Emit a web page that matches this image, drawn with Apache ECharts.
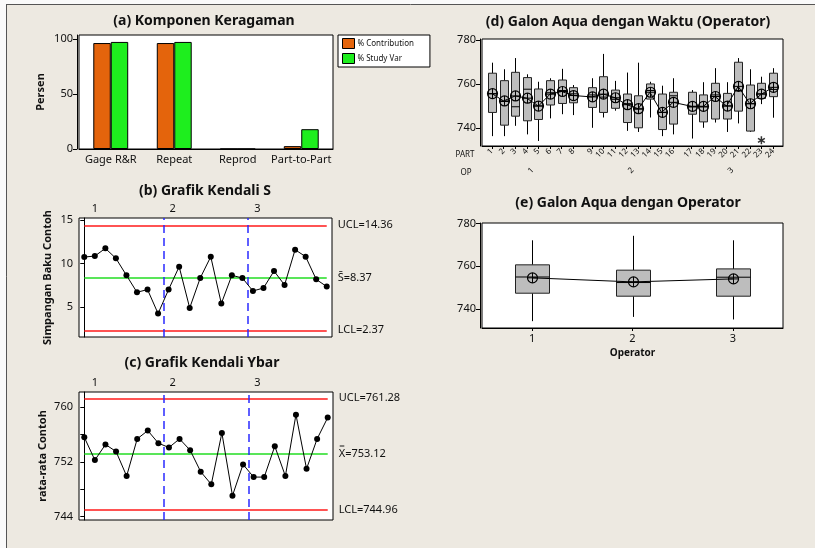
<!DOCTYPE html>
<html><head><meta charset="utf-8">
<script src="https://cdn.jsdelivr.net/npm/echarts@6/dist/echarts.min.js"></script>
<style>html,body{margin:0;padding:0;background:#fff;}#c{width:815px;height:548px;}</style>
</head><body><div id="c"></div>
<script>
// ---------- data ----------
// (a) Komponen Keragaman
const compCategories = ['Gage R&R', 'Repeat', 'Reprod', 'Part-to-Part'];
const pctContribution = [96.3, 96.3, 0, 2.6];
const pctStudyVar = [97.3, 97.3, 0, 18.0];

// (b) S chart and (c) Ybar chart, 24 subgroups, 3 operators
const subgroupIdx = [1,2,3,4,5,6,7,8,9,10,11,12,13,14,15,16,17,18,19,20,21,22,23,24];
const opGroupLabels = ['1', '2', '3'];
const sValues = [10.74,10.85,11.73,10.59,8.65,6.71,7.02,4.28,7.02,9.64,4.92,8.34,10.78,5.42,8.65,8.34,6.86,7.20,9.14,7.54,11.58,10.78,8.19,7.36];
const sUCL = 14.36, sCL = 8.37, sLCL = 2.37;
const ybarValues = [755.59,752.25,754.53,753.51,749.92,755.35,756.56,754.72,754.09,755.35,753.70,750.55,748.71,756.22,747.05,751.62,749.77,749.77,754.28,749.92,758.89,750.98,755.35,758.46];
const xUCL = 761.28, xCL = 753.12, xLCL = 744.96;

// tick values
const sTicks = [5, 10, 15];
const ybarTicks = [744, 748, 752, 756, 760];
const ybarTickLabels = [744, 752, 760];
const pctTicks = [0, 50, 100];
const measTicks = [740, 760, 780];

// (d) per part boxplots
const partLabels = ['1','2','3','4','5','6','7','8','9','10','11','12','13','14','15','16','17','18','19','20','21','22','23','24'];
const partOperator = [0,0,0,0,0,0,0,0,1,1,1,1,1,1,1,1,2,2,2,2,2,2,2,2];
const partMin    = [736.2,736.2,740.9,737.0,734.0,744.3,746.2,745.8,740.0,744.7,747.8,738.6,738.1,744.7,736.2,737.0,735.1,740.0,742.4,738.1,742.0,738.1,750.8,744.6];
const partQ1     = [747.0,741.2,745.3,743.2,743.8,750.4,751.1,751.4,749.3,747.0,748.9,742.4,740.0,753.1,739.2,741.7,746.2,742.7,744.0,744.0,747.6,738.5,753.4,754.2];
const partMedian = [755.5,752.0,749.6,757.6,750.0,756.0,757.0,755.5,755.0,754.0,753.0,751.0,748.5,757.0,747.0,754.6,749.5,749.5,755.0,750.0,757.0,751.0,755.5,757.5];
const partQ3     = [764.9,761.5,765.3,762.9,757.7,761.5,761.8,758.3,758.3,763.3,757.2,755.4,754.6,760.0,755.4,756.2,756.2,755.0,760.3,755.7,769.9,759.5,760.3,764.9];
const partMax    = [769.7,766.7,771.8,764.4,761.0,762.6,766.9,759.5,762.6,773.7,761.4,765.2,769.7,761.0,759.2,762.6,757.2,760.8,767.2,760.8,771.8,766.7,763.3,767.2];
const partMean   = ybarValues;
const outlierPart = [23];
const outlierValue = [734.3];

// (e) per operator boxplots
const operators = ['1', '2', '3'];
const opMin    = [734.2, 736.2, 735.0];
const opQ1     = [747.3, 745.9, 745.9];
const opMedian = [754.9, 752.3, 754.8];
const opQ3     = [760.6, 758.1, 758.7];
const opMax    = [772.1, 774.2, 772.1];
const opMean   = [754.5, 752.6, 754.0];

// ---------- style ----------
const FONT = "'Noto Sans', 'DejaVu Sans', sans-serif";
const BG = '#EDE9E1';
const TXT = '#111';
const GROUP_GAP = 0.6; // extra spacing between operator groups in (d)
const partPos = subgroupIdx.map((p, i) => p + partOperator[i] * GROUP_GAP);
const groupCenters = opGroupLabels.map((_, g) => {
  const ps = partPos.filter((_, i) => partOperator[i] === g);
  return (ps[0] + ps[ps.length - 1]) / 2;
});

const gridStyle = {show: true, backgroundColor: '#fff', borderColor: '#000', borderWidth: 1};
const axisLineBlack = {show: true, lineStyle: {color: '#000', width: 1}};
const tickOut = {show: true, length: 4, lineStyle: {color: '#000'}};
const lblStyle = {color: TXT, fontSize: 11, fontFamily: FONT};

function yAx(grid, min, max, ticks, labels, name, nameGap) {
  return {
    type: 'value', gridIndex: grid, min: min, max: max, offset: 2,
    axisLine: axisLineBlack,
    axisTick: Object.assign({}, tickOut, {customValues: ticks}),
    axisLabel: Object.assign({}, lblStyle, {customValues: labels, margin: 4}),
    splitLine: {show: false},
    name: name || '', nameLocation: 'middle', nameRotate: 90, nameGap: nameGap || 0,
    nameTextStyle: {fontWeight: 'bold', fontSize: 11, fontFamily: FONT, color: TXT}
  };
}

function limitLine(x0, x1, y, color, text) {
  return [
    {coord: [x0, y], lineStyle: {color: color, width: 1.5, type: 'solid'},
     label: {show: true, position: 'end', distance: 11, formatter: text, color: TXT, fontSize: 11, fontFamily: FONT}},
    {coord: [x1, y]}
  ];
}
function groupDivider(x) {
  return {xAxis: x, lineStyle: {color: '#2a2aff', width: 1.5, type: [8, 5]}, label: {show: false}};
}
const n = subgroupIdx.length;
function controlMarks(ucl, cl, lcl, clText) {
  return {
    symbol: 'none', silent: true, animation: false,
    data: [
      limitLine(0, n - 1, ucl, '#ff1a1a', 'UCL=' + ucl.toFixed(2)),
      limitLine(0, n - 1, cl, '#22dd22', clText),
      limitLine(0, n - 1, lcl, '#ff1a1a', 'LCL=' + lcl.toFixed(2)),
      groupDivider(7.5),
      groupDivider(15.5)
    ]
  };
}

function boxRenderer(halfW) {
  return function (params, api) {
    const x = api.value(0);
    const pMin = api.coord([x, api.value(1)]);
    const pQ1 = api.coord([x, api.value(2)]);
    const pMed = api.coord([x, api.value(3)]);
    const pQ3 = api.coord([x, api.value(4)]);
    const pMax = api.coord([x, api.value(5)]);
    const pMean = api.coord([x, api.value(6)]);
    const cx = Math.round(pMin[0]) + 0.5;
    const r = 5;
    const ln = {stroke: '#000', lineWidth: 1};
    return {
      type: 'group',
      children: [
        {type: 'line', shape: {x1: cx, y1: pMax[1], x2: cx, y2: pQ3[1]}, style: ln},
        {type: 'line', shape: {x1: cx, y1: pQ1[1], x2: cx, y2: pMin[1]}, style: ln},
        {type: 'rect', shape: {x: cx - halfW, y: pQ3[1], width: 2 * halfW, height: pQ1[1] - pQ3[1]},
         style: {fill: '#BDBDBD', stroke: '#222', lineWidth: 1}},
        {type: 'line', shape: {x1: cx - halfW, y1: pMed[1], x2: cx + halfW, y2: pMed[1]}, style: ln},
        {type: 'circle', shape: {cx: cx, cy: pMean[1], r: r}, style: {fill: 'none', stroke: '#000', lineWidth: 1.2}},
        {type: 'line', shape: {x1: cx - r, y1: pMean[1], x2: cx + r, y2: pMean[1]}, style: ln},
        {type: 'line', shape: {x1: cx, y1: pMean[1] - r, x2: cx, y2: pMean[1] + r}, style: ln}
      ]
    };
  };
}

function txt(x, y, text, size, bold) {
  return {
    type: 'text', x: x, y: y, silent: true,
    style: {text: text, fontSize: size, fontWeight: bold ? 'bold' : 'normal', fontFamily: FONT, fill: TXT,
            align: 'center', verticalAlign: 'middle', textAlign: 'center', textVerticalAlign: 'middle'}
  };
}

const graphics = [
  {type: 'rect', shape: {x: 0, y: 0, width: 815, height: 4.5}, style: {fill: '#fafafa'}, silent: true},
  {type: 'rect', shape: {x: 0, y: 0, width: 6, height: 548}, style: {fill: '#fafafa'}, silent: true},
  {type: 'line', shape: {x1: 6, y1: 4.5, x2: 815, y2: 4.5}, style: {stroke: '#555', lineWidth: 1}, silent: true},
  {type: 'line', shape: {x1: 6.5, y1: 4.5, x2: 6.5, y2: 548}, style: {stroke: '#555', lineWidth: 1}, silent: true},
  txt(204, 21, '(a) Komponen Keragaman', 14, true),
  txt(205, 191, '(b) Grafik Kendali S', 14, true),
  txt(202, 363, '(c) Grafik Kendali Ybar', 14, true),
  txt(628, 22, '(d) Galon Aqua dengan Waktu (Operator)', 14, true),
  txt(628, 203, '(e) Galon Aqua dengan Operator', 14, true),
  txt(95, 209, opGroupLabels[0], 11, false),
  txt(172.7, 209, opGroupLabels[1], 11, false),
  txt(257.3, 209, opGroupLabels[2], 11, false),
  txt(95, 382.5, opGroupLabels[0], 11, false),
  txt(172.7, 382.5, opGroupLabels[1], 11, false),
  txt(257.3, 382.5, opGroupLabels[2], 11, false),
  txt(465, 155, 'PART', 8, false),
  txt(466, 173, 'OP', 8, false)
];

function nearestIndex(arr, v) {
  let best = 0;
  for (let i = 1; i < arr.length; i++) if (Math.abs(arr[i] - v) < Math.abs(arr[best] - v)) best = i;
  return best;
}

const option = {
  animation: false,
  backgroundColor: BG,
  textStyle: {fontFamily: FONT},
  graphic: graphics,
  legend: {
    left: 338, top: 35, orient: 'vertical',
    data: ['% Contribution', '% Study Var'],
    backgroundColor: '#fff', borderColor: '#000', borderWidth: 1,
    padding: [3, 16, 3, 4], itemGap: 4, itemWidth: 12, itemHeight: 10,
    icon: 'rect',
    itemStyle: {borderColor: '#000', borderWidth: 1},
    textStyle: {fontSize: 8, fontFamily: FONT, color: TXT, padding: [0, 0, 0, -2]}
  },
  grid: [
    Object.assign({left: 79, top: 35, width: 254, height: 114}, gridStyle),
    Object.assign({left: 79, top: 218, width: 253, height: 119}, gridStyle),
    Object.assign({left: 79, top: 392, width: 254, height: 128}, gridStyle),
    Object.assign({left: 482, top: 39, width: 301, height: 107}, gridStyle),
    Object.assign({left: 482, top: 223, width: 301, height: 105}, gridStyle)
  ],
  xAxis: [
    {type: 'category', gridIndex: 0, data: compCategories, axisLine: axisLineBlack, axisTick: {show: false},
     axisLabel: Object.assign({}, lblStyle, {margin: 5, interval: 0})},
    {type: 'value', gridIndex: 1, min: -0.5, max: n - 0.5, show: false},
    {type: 'value', gridIndex: 2, min: -0.5, max: n - 0.5, show: false},
    {type: 'value', gridIndex: 3, min: 0.14, max: 26.06, axisLine: axisLineBlack,
     axisTick: {show: true, length: 3, customValues: partPos, lineStyle: {color: '#000'}},
     splitLine: {show: false},
     axisLabel: {customValues: partPos, rotate: 45, fontSize: 8, fontFamily: FONT, color: TXT, margin: 4,
                 formatter: v => partLabels[nearestIndex(partPos, v)]}},
    {type: 'value', gridIndex: 3, min: 0.14, max: 26.06, position: 'bottom', offset: 19,
     axisLine: {show: false}, axisTick: {show: false}, splitLine: {show: false},
     axisLabel: {customValues: groupCenters, rotate: 45, fontSize: 8, fontFamily: FONT, color: TXT, margin: 4,
                 formatter: v => opGroupLabels[nearestIndex(groupCenters, v)]}},
    {type: 'category', gridIndex: 4, data: operators, axisLine: axisLineBlack,
     axisTick: {show: true, length: 3, alignWithLabel: true, lineStyle: {color: '#000'}},
     axisLabel: Object.assign({}, lblStyle, {margin: 5}),
     name: 'Operator', nameLocation: 'middle', nameGap: 20,
     nameTextStyle: {fontWeight: 'bold', fontSize: 10, fontFamily: FONT, color: TXT}}
  ],
  yAxis: [
    yAx(0, 0, 103.6, pctTicks, pctTicks, 'Persen', 31),
    yAx(1, 1.6, 15.2, sTicks, sTicks, 'Simpangan Baku Contoh', 24),
    yAx(2, 743.5, 762.2, ybarTicks, ybarTickLabels, 'rata-rata Contoh', 29),
    yAx(3, 731.7, 780.5, measTicks, measTicks),
    yAx(4, 731.0, 780.2, measTicks, measTicks)
  ],
  series: [
    {type: 'bar', name: '% Contribution', xAxisIndex: 0, yAxisIndex: 0, data: pctContribution,
     barGap: '0%', barCategoryGap: '45%', itemStyle: {color: '#E4640C', borderColor: '#000', borderWidth: 1}},
    {type: 'bar', name: '% Study Var', xAxisIndex: 0, yAxisIndex: 0, data: pctStudyVar,
     barGap: '0%', barCategoryGap: '45%', itemStyle: {color: '#1EEE1E', borderColor: '#000', borderWidth: 1}},
    {type: 'line', xAxisIndex: 1, yAxisIndex: 1, data: sValues.map((v, i) => [i, v]),
     symbol: 'circle', symbolSize: 6, itemStyle: {color: '#000'}, lineStyle: {color: '#000', width: 1}, z: 5,
     markLine: controlMarks(sUCL, sCL, sLCL, 'S\u0304=' + sCL.toFixed(2))},
    {type: 'line', xAxisIndex: 2, yAxisIndex: 2, data: ybarValues.map((v, i) => [i, v]),
     symbol: 'circle', symbolSize: 6, itemStyle: {color: '#000'}, lineStyle: {color: '#000', width: 1}, z: 5,
     markLine: controlMarks(xUCL, xCL, xLCL, 'X\u033F=' + xCL.toFixed(2))},
    {type: 'custom', xAxisIndex: 3, yAxisIndex: 3, renderItem: boxRenderer(4),
     encode: {x: 0, y: [1, 2, 3, 4, 5, 6]},
     data: partLabels.map((_, i) => [partPos[i], partMin[i], partQ1[i], partMedian[i], partQ3[i], partMax[i], partMean[i]])},
    {type: 'line', xAxisIndex: 3, yAxisIndex: 3, data: partPos.map((p, i) => [p, partMean[i]]),
     symbol: 'none', lineStyle: {color: '#000', width: 1}, z: 3},
    {type: 'scatter', xAxisIndex: 3, yAxisIndex: 3,
     data: outlierPart.map((p, k) => [partPos[p - 1], outlierValue[k]]),
     symbol: 'path://M5,0L5,10M0.7,2.5L9.3,7.5M0.7,7.5L9.3,2.5', symbolSize: 8, symbolKeepAspect: true,
     itemStyle: {color: 'none', borderColor: '#000', borderWidth: 1.5}},
    {type: 'custom', xAxisIndex: 5, yAxisIndex: 4, renderItem: boxRenderer(17),
     encode: {x: 0, y: [1, 2, 3, 4, 5, 6]},
     data: operators.map((_, i) => [i, opMin[i], opQ1[i], opMedian[i], opQ3[i], opMax[i], opMean[i]])},
    {type: 'line', xAxisIndex: 5, yAxisIndex: 4, data: opMean,
     symbol: 'none', lineStyle: {color: '#000', width: 1}, z: 3}
  ]
};

const chart = echarts.init(document.getElementById('c'), null, {renderer: 'canvas'});
chart.setOption(option);
</script>
</body></html>
